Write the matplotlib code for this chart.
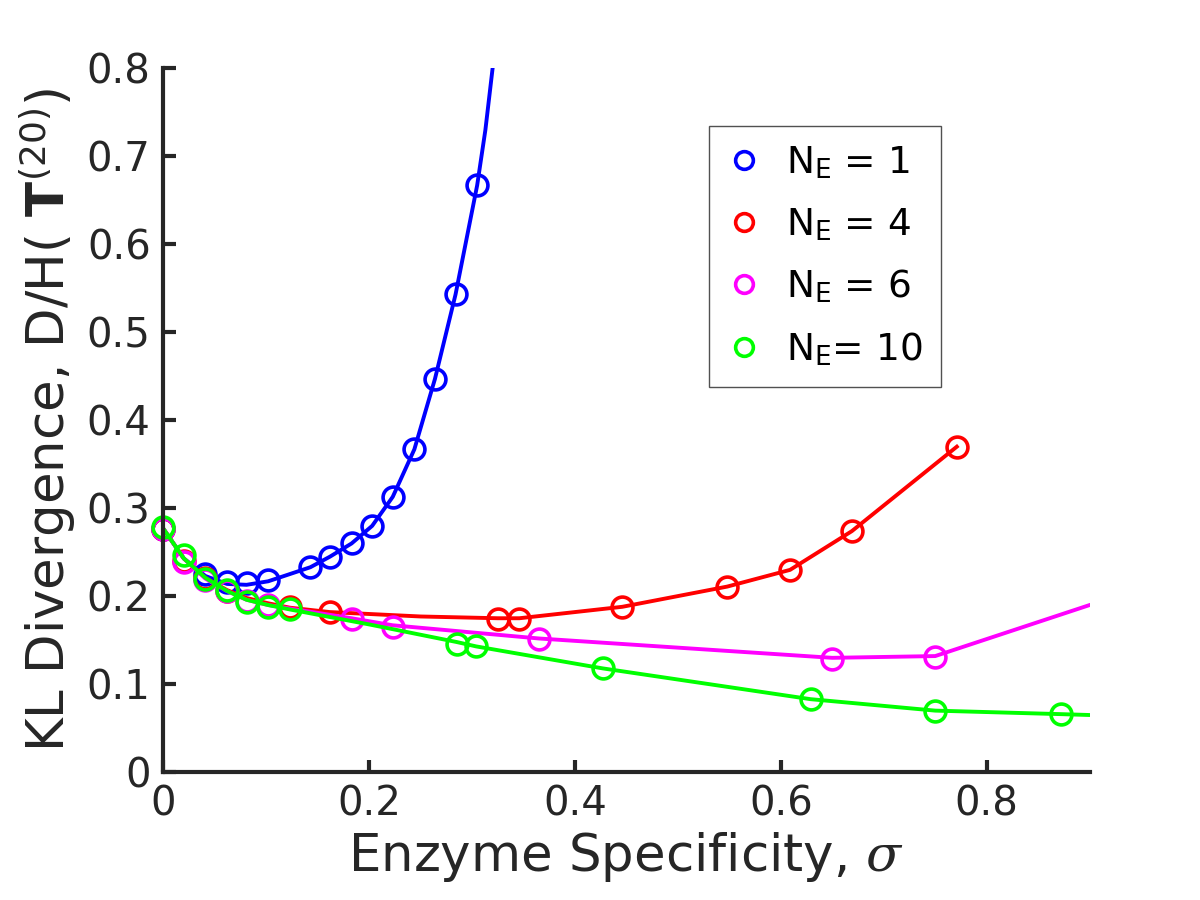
import matplotlib
matplotlib.use("Agg")
import matplotlib.pyplot as plt
from matplotlib.ticker import FuncFormatter

plt.rcParams['font.family'] = ['DejaVu Sans']
plt.rcParams['mathtext.fontset'] = 'custom'
plt.rcParams['mathtext.rm'] = 'DejaVu Sans'
plt.rcParams['mathtext.it'] = 'DejaVu Serif:italic'
plt.rcParams['mathtext.bf'] = 'DejaVu Sans:bold'

# ---- data ----
ne1_x = [0.0, 0.041, 0.062, 0.081, 0.102, 0.143, 0.162, 0.183, 0.203, 0.223, 0.244, 0.264, 0.284, 0.305]
ne1_y = [0.277, 0.225, 0.216, 0.215, 0.218, 0.233, 0.245, 0.260, 0.280, 0.313, 0.367, 0.447, 0.543, 0.667]
ne1_line_x = [0.0, 0.02, 0.041, 0.062, 0.081, 0.102, 0.143, 0.162, 0.183, 0.203, 0.223, 0.244, 0.264, 0.284, 0.305, 0.313, 0.320]
ne1_line_y = [0.277, 0.243, 0.223, 0.214, 0.213, 0.217, 0.233, 0.245, 0.260, 0.280, 0.313, 0.367, 0.447, 0.543, 0.667, 0.730, 0.800]

ne4_x = [0.0, 0.02, 0.041, 0.062, 0.123, 0.162, 0.325, 0.346, 0.446, 0.548, 0.609, 0.669, 0.771]
ne4_y = [0.277, 0.240, 0.221, 0.206, 0.188, 0.182, 0.174, 0.174, 0.188, 0.211, 0.230, 0.274, 0.370]
ne4_line_x = [0.0, 0.02, 0.041, 0.062, 0.081, 0.102, 0.123, 0.162, 0.250, 0.325, 0.346, 0.446, 0.548, 0.609, 0.669, 0.771]
ne4_line_y = [0.277, 0.243, 0.221, 0.207, 0.198, 0.192, 0.187, 0.182, 0.177, 0.175, 0.175, 0.188, 0.211, 0.230, 0.274, 0.370]

ne6_x = [0.0, 0.02, 0.041, 0.062, 0.081, 0.102, 0.183, 0.223, 0.365, 0.650, 0.750]
ne6_y = [0.277, 0.239, 0.218, 0.206, 0.195, 0.190, 0.174, 0.165, 0.151, 0.129, 0.131]
ne6_line_x = [0.0, 0.02, 0.041, 0.062, 0.081, 0.102, 0.183, 0.223, 0.365, 0.650, 0.750, 0.900]
ne6_line_y = [0.277, 0.243, 0.220, 0.206, 0.196, 0.190, 0.175, 0.167, 0.152, 0.130, 0.132, 0.190]

ne10_x = [0.0, 0.02, 0.041, 0.062, 0.081, 0.102, 0.123, 0.285, 0.304, 0.427, 0.629, 0.750, 0.872]
ne10_y = [0.279, 0.247, 0.220, 0.207, 0.193, 0.188, 0.185, 0.146, 0.143, 0.118, 0.083, 0.070, 0.066]
ne10_line_x = [0.0, 0.02, 0.041, 0.062, 0.081, 0.102, 0.123, 0.200, 0.285, 0.304, 0.427, 0.629, 0.750, 0.872, 0.900]
ne10_line_y = [0.277, 0.243, 0.221, 0.206, 0.196, 0.190, 0.185, 0.168, 0.148, 0.143, 0.118, 0.083, 0.070, 0.066, 0.065]

labels = [r'N$_\mathrm{E}$ = 1', r'N$_\mathrm{E}$ = 4', r'N$_\mathrm{E}$ = 6', r'N$_\mathrm{E}$= 10']
colors = ['#0000ff', '#ff0000', '#ff00ff', '#00ff00']

x_ticks = [0, 0.2, 0.4, 0.6, 0.8]
y_ticks = [0, 0.1, 0.2, 0.3, 0.4, 0.5, 0.6, 0.7, 0.8]

fig = plt.figure(figsize=(12, 9), dpi=100)
ax = fig.add_axes([0.136, 0.142, 0.772, 0.782])

series = [(ne1_x, ne1_y, ne1_line_x, ne1_line_y),
          (ne4_x, ne4_y, ne4_line_x, ne4_line_y),
          (ne6_x, ne6_y, ne6_line_x, ne6_line_y),
          (ne10_x, ne10_y, ne10_line_x, ne10_line_y)]

handles = []
for (mx, my, lx, ly), c, lab in zip(series, colors, labels):
    h, = ax.plot(mx, my, linestyle='none', marker='o', markersize=15,
                 markerfacecolor='none', markeredgecolor=c, markeredgewidth=2.6,
                 label=lab, clip_on=False)
    ax.plot(lx, ly, color=c, linewidth=2.8)
    handles.append(h)

ax.set_xlim(0, 0.9)
ax.set_ylim(0, 0.8)
ax.set_xticks(x_ticks)
ax.set_yticks(y_ticks)
fmt = FuncFormatter(lambda v, p: '%g' % round(v, 3))
ax.xaxis.set_major_formatter(fmt)
ax.yaxis.set_major_formatter(fmt)

for s in ['top', 'right']:
    ax.spines[s].set_visible(False)
for s in ['left', 'bottom']:
    ax.spines[s].set_linewidth(3)
    ax.spines[s].set_color('#262626')
ax.tick_params(direction='in', length=9, width=3, color='#262626',
               labelsize=29, labelcolor='#262626', pad=9)

ax.set_xlabel(r'Enzyme Specificity, $\sigma$', fontsize=37, color='#262626', labelpad=4)
ax.set_ylabel(r'KL Divergence, D/H( $\mathbf{T}^{(20)}$)', fontsize=37, color='#262626', labelpad=6)

leg = ax.legend(handles=handles, loc='upper left', bbox_to_anchor=(0.589, 0.918),
                fontsize=27, frameon=True, fancybox=False, edgecolor='#262626',
                handlelength=0.9, handletextpad=0.65, labelspacing=0.66,
                borderpad=0.5, borderaxespad=0, markerscale=0.85)
leg.get_frame().set_linewidth(1.0)

fig.savefig('out.png', dpi=100, facecolor='white')
